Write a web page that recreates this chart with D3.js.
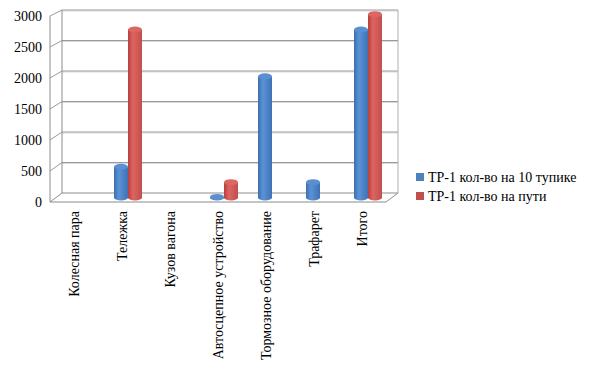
<!DOCTYPE html>
<html><head><meta charset="utf-8">
<script src="https://cdn.jsdelivr.net/npm/d3@7/dist/d3.min.js"></script>
<style>body{margin:0;background:#fff}svg{display:block}text{font-family:"Liberation Serif","Times New Roman",serif;font-size:14px;fill:#000}</style>
</head><body>
<svg id="c" width="593" height="373"></svg>
<script>
const categories = ["Колесная пара","Тележка","Кузов вагона","Автосцепное устройство","Тормозное оборудование","Трафарет","Итого"];
const seriesNames = ["ТР-1 кол-во на 10 тупике","ТР-1 кол-во на пути"];
const series1 = [null, 500, null, 10, 1970, 250, 2730];
const series2 = [null, 2730, null, 250, null, null, 2980];
const tickValues = [0,500,1000,1500,2000,2500,3000];

const svg = d3.select("#c");
const dx = 12;
const yBack = d3.scaleLinear().domain([0,3000]).range([193,10]);
const yFront = d3.scaleLinear().domain([0,3000]).range([202,16]);
const yMid = d3.scaleLinear().domain([0,3000]).range([197.5,13]);
const xFront = d3.scaleBand().domain(categories).range([50,386]);
const xMid = d3.scaleBand().domain(categories).range([56,392]);
const xL = 50, xR = 386;

const defs = svg.append("defs");
function grad(id, dark, mid, light){
  const g = defs.append("linearGradient").attr("id",id).attr("x1","0").attr("x2","1").attr("y1","0").attr("y2","0");
  g.append("stop").attr("offset","0%").attr("stop-color",dark);
  g.append("stop").attr("offset","35%").attr("stop-color",light);
  g.append("stop").attr("offset","100%").attr("stop-color",mid);
}
grad("gb","#3d6fae","#3f72b3","#5a91d8");
grad("gr","#b33f3c","#c0504d","#de6460");
const topCol = ["#5c8fd2","#dd6663"];

const wall = svg.append("g").attr("fill","none");
tickValues.forEach(v=>{
  if(v===0) return;
  wall.append("line").attr("x1",xL+dx).attr("x2",xR+dx).attr("y1",yBack(v)+1).attr("y2",yBack(v)+1).attr("stroke","#d9d9d9");
  wall.append("line").attr("x1",xL+dx).attr("x2",xR+dx).attr("y1",yBack(v)).attr("y2",yBack(v)).attr("stroke","#9a9a9a");
  wall.append("line").attr("x1",xL).attr("y1",yFront(v)).attr("x2",xL+dx).attr("y2",yBack(v)).attr("stroke","#9a9a9a");
});
const edge = "#8c8c8c";
wall.append("line").attr("x1",xL+dx).attr("x2",xR+dx).attr("y1",yBack(0)).attr("y2",yBack(0)).attr("stroke",edge);
wall.append("line").attr("x1",xL+dx).attr("x2",xL+dx).attr("y1",yBack(0)).attr("y2",yBack(3000)).attr("stroke",edge);
wall.append("line").attr("x1",xR+dx).attr("x2",xR+dx).attr("y1",yBack(0)).attr("y2",yBack(3000)).attr("stroke","#b0b0b0");
wall.append("line").attr("x1",xL).attr("y1",yFront(0)).attr("x2",xL+dx).attr("y2",yBack(0)).attr("stroke",edge);
wall.append("line").attr("x1",xR).attr("y1",yFront(0)).attr("x2",xR+dx).attr("y2",yBack(0)).attr("stroke",edge);
wall.append("line").attr("x1",xL).attr("x2",xR).attr("y1",yFront(0)).attr("y2",yFront(0)).attr("stroke",edge);
wall.append("line").attr("x1",xL).attr("x2",xL).attr("y1",yFront(0)).attr("y2",yFront(3000)).attr("stroke",edge);

svg.append("g").selectAll("text").data(tickValues).join("text")
  .attr("x",42).attr("y",d=>yFront(d)).attr("dy","0.35em").attr("text-anchor","end").text(d=>d);

const bw = 14, ry = 3;
const bars = svg.append("g");
[series1, series2].forEach((s, si)=>{
  s.forEach((v,i)=>{
    if(v==null) return;
    const x0 = xMid(categories[i]) + xMid.bandwidth()/2 - bw + si*bw;
    const x1 = x0 + bw, rx = bw/2;
    const yb = yMid(0), yt = yMid(v);
    const path = `M${x0},${yt} L${x0},${yb} A${rx},${ry} 0 0 0 ${x1},${yb} L${x1},${yt} Z`;
    bars.append("path").attr("d",path).attr("fill",`url(#${si?"gr":"gb"})`);
    bars.append("ellipse").attr("cx",x0+rx).attr("cy",yt).attr("rx",rx).attr("ry",ry).attr("fill",topCol[si]);
  });
});

svg.append("g").selectAll("text").data(categories).join("text")
  .attr("transform",d=>`translate(${xFront(d)+xFront.bandwidth()/2},211) rotate(-90)`)
  .attr("text-anchor","end").attr("dominant-baseline","central").text(d=>d);

const lg = svg.append("g");
const lcol = ["#4f81bd","#c0504d"];
seriesNames.forEach((n,i)=>{
  const y = 177 + i*19;
  lg.append("rect").attr("x",416).attr("y",y-4).attr("width",8).attr("height",8).attr("fill",lcol[i]);
  lg.append("text").attr("x",428).attr("y",y).attr("dy","0.35em").text(n);
});
</script>
</body></html>
